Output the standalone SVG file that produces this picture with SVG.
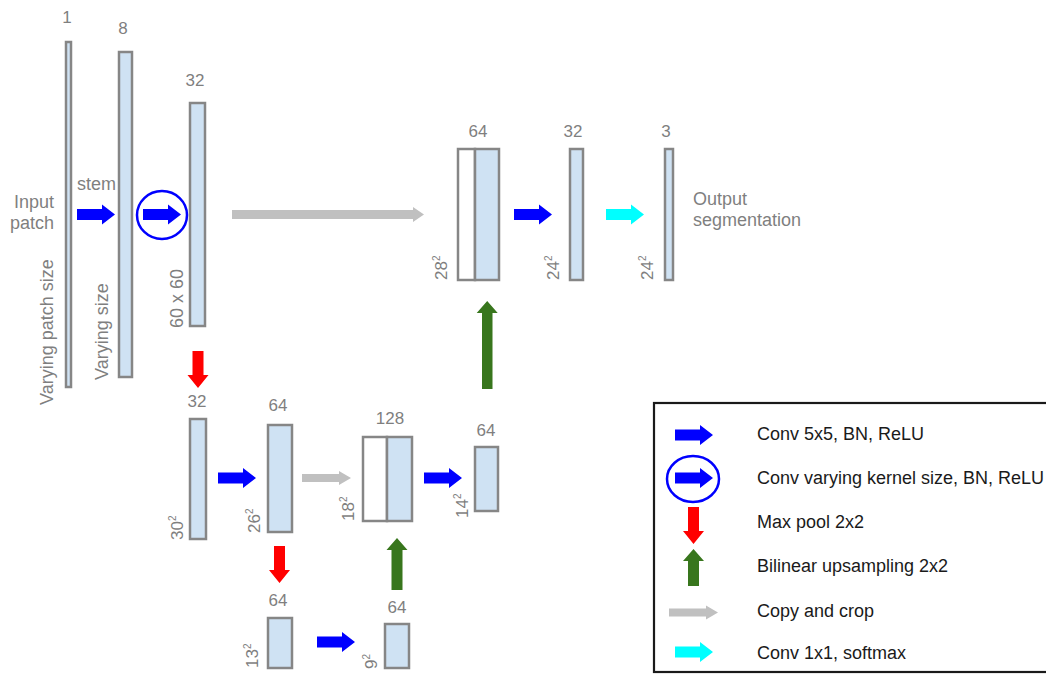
<svg xmlns="http://www.w3.org/2000/svg" width="1046" height="674" viewBox="0 0 1046 674">
<style>
.blk{fill:#cfe2f3;stroke:#868686;stroke-width:2.5}
.wht{fill:#ffffff;stroke:#868686;stroke-width:2.5}
.num{font-family:"Liberation Sans",Arial,sans-serif;font-size:17px;fill:#7f7f7f;text-anchor:middle}
.lbl{font-family:"Liberation Sans",Arial,sans-serif;font-size:18px;fill:#7f7f7f}
.dim{font-family:"Liberation Sans",Arial,sans-serif;font-size:17px;fill:#7f7f7f}
.sup{font-size:10px}
.leg{font-family:"Liberation Sans",Arial,sans-serif;font-size:18px;fill:#1a1a1a}
.blue{fill:#0000ff}
.cyan{fill:#00ffff}
.red{fill:#ff0000}
.green{fill:#38761d}
.gray{fill:#c0c0c0}
.ring{fill:none;stroke:#0000ff;stroke-width:2.5}
</style>
<defs>
<path id="ar" d="M0,-5.5 H25 V-10 L38,0 L25,10 V5.5 H0 Z"/>
<path id="dn" d="M-5.5,0 V24 H-10.5 L0,37 L10.5,24 H5.5 V0 Z"/>
</defs>
<rect width="1046" height="674" fill="#ffffff"/>

<g id="node-input">
<rect class="blk" x="66" y="42" width="5" height="345"/>
<text class="num" x="67" y="23">1</text>
<text class="lbl" x="54" y="208" text-anchor="end">Input</text>
<text class="lbl" x="54" y="229" text-anchor="end">patch</text>
<text class="lbl" transform="translate(52.5,405) rotate(-90)">Varying patch size</text>
</g>
<g id="node-stem">
<rect class="blk" x="119" y="52" width="13" height="325"/>
<text class="num" x="123" y="34">8</text>
<text class="lbl" transform="translate(108,380) rotate(-90)">Varying size</text>
</g>
<g id="node-c1">
<rect class="blk" x="190" y="103" width="15" height="223"/>
<text class="num" x="195" y="86">32</text>
<text class="lbl" transform="translate(183,328) rotate(-90)">60 x 60</text>
</g>
<g id="node-up1">
<rect class="wht" x="458" y="149" width="17" height="131"/>
<rect class="blk" x="475" y="149" width="24" height="131"/>
<text class="num" x="478" y="137">64</text>
<text class="dim" transform="translate(447,280) rotate(-90)">28<tspan class="sup" dy="-7">2</tspan></text>
</g>
<g id="node-up2">
<rect class="blk" x="570" y="149" width="13" height="131"/>
<text class="num" x="573" y="137">32</text>
<text class="dim" transform="translate(559,280) rotate(-90)">24<tspan class="sup" dy="-7">2</tspan></text>
</g>
<g id="node-out">
<rect class="blk" x="665" y="149" width="8" height="131"/>
<text class="num" x="666" y="137">3</text>
<text class="dim" transform="translate(653,280) rotate(-90)">24<tspan class="sup" dy="-7">2</tspan></text>
<text class="lbl" x="693" y="205">Output</text>
<text class="lbl" x="693" y="226">segmentation</text>
</g>
<g id="node-d1">
<rect class="blk" x="190" y="419" width="16" height="120"/>
<text class="num" x="197" y="407">32</text>
<text class="dim" transform="translate(183,540) rotate(-90)">30<tspan class="sup" dy="-7">2</tspan></text>
</g>
<g id="node-d2">
<rect class="blk" x="268" y="425" width="24" height="107"/>
<text class="num" x="278" y="411">64</text>
<text class="dim" transform="translate(260,533) rotate(-90)">26<tspan class="sup" dy="-7">2</tspan></text>
</g>
<g id="node-m1">
<rect class="wht" x="363" y="437" width="24" height="84"/>
<rect class="blk" x="387" y="437" width="25" height="84"/>
<text class="num" x="390" y="424">128</text>
<text class="dim" transform="translate(354,521) rotate(-90)">18<tspan class="sup" dy="-7">2</tspan></text>
</g>
<g id="node-m2">
<rect class="blk" x="475" y="447" width="23" height="64"/>
<text class="num" x="486" y="436">64</text>
<text class="dim" transform="translate(468,518) rotate(-90)">14<tspan class="sup" dy="-7">2</tspan></text>
</g>
<g id="node-b1">
<rect class="blk" x="268" y="618" width="24" height="50"/>
<text class="num" x="278" y="606">64</text>
<text class="dim" transform="translate(258,668) rotate(-90)">13<tspan class="sup" dy="-7">2</tspan></text>
</g>
<g id="node-b2">
<rect class="blk" x="385" y="624" width="24" height="44"/>
<text class="num" x="397" y="613">64</text>
<text class="dim" transform="translate(377,669) rotate(-90)">9<tspan class="sup" dy="-7">2</tspan></text>
</g>

<g id="connectors">
<use href="#ar" class="blue" x="77" y="214.5"/>
<text class="lbl" x="77" y="190">stem</text>
<ellipse class="ring" cx="162" cy="215" rx="25" ry="24"/>
<use href="#ar" class="blue" x="143" y="214.5"/>
<path class="gray" d="M232,210 H413 V207 L424,214.5 L413,222 V219 H232 Z"/>
<use href="#ar" class="blue" x="514" y="214.5"/>
<use href="#ar" class="cyan" x="606" y="214.5"/>
<path class="green" d="M482,389 V313 H476.7 L487.2,301 L497.7,313 H492.5 V389 Z"/>
<use href="#dn" class="red" x="198" y="351"/>
<use href="#ar" class="blue" x="218" y="478"/>
<path class="gray" d="M302,474 H339 V471 L351,478 L339,485 V482 H302 Z"/>
<use href="#ar" class="blue" x="424" y="478"/>
<use href="#dn" class="red" x="279.5" y="546"/>
<use href="#ar" class="blue" x="317" y="642"/>
<path class="green" d="M391.5,590 V550 H386.5 L397,538 L407.5,550 H402.5 V590 Z"/>
</g>

<g id="legend">
<rect x="654" y="403" width="400" height="269" fill="none" stroke="#1a1a1a" stroke-width="2.2"/>
<use href="#ar" class="blue" x="675" y="435"/>
<text class="leg" x="757" y="440">Conv 5x5, BN, ReLU</text>
<ellipse class="ring" cx="693" cy="479" rx="26" ry="23"/>
<use href="#ar" class="blue" x="675" y="478"/>
<text class="leg" x="757" y="484">Conv varying kernel size, BN, ReLU</text>
<use href="#dn" class="red" x="693.5" y="507"/>
<text class="leg" x="757" y="528">Max pool 2x2</text>
<path class="green" d="M688,586 V561 H683 L693.5,549 L704,561 H699 V586 Z"/>
<text class="leg" x="757" y="572">Bilinear upsampling 2x2</text>
<path class="gray" d="M669,608.5 H706 V605.5 L718,612.5 L706,619.5 V616.5 H669 Z"/>
<text class="leg" x="757" y="617">Copy and crop</text>
<use href="#ar" class="cyan" x="675" y="652"/>
<text class="leg" x="757" y="659">Conv 1x1, softmax</text>
</g>
</svg>
